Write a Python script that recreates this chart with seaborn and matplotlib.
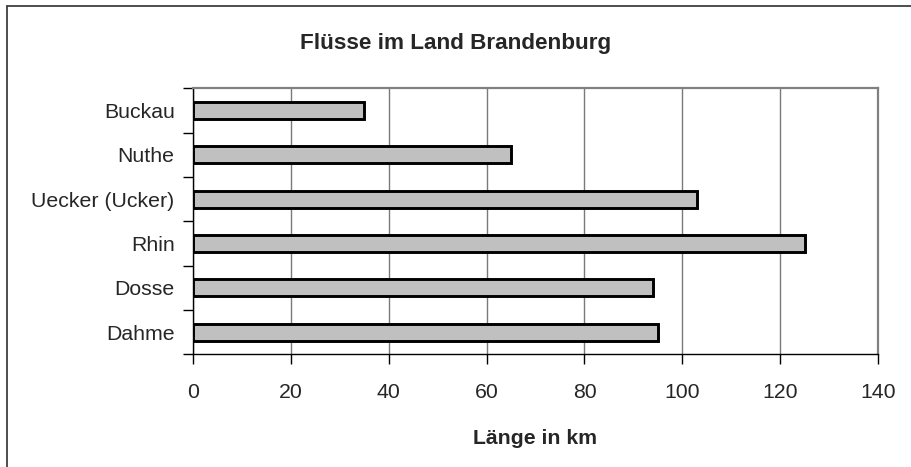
import numpy as np
import pandas as pd
import matplotlib
matplotlib.use("Agg")
import matplotlib.pyplot as plt
import seaborn as sns
from matplotlib.lines import Line2D

rivers = ["Buckau", "Nuthe", "Uecker (Ucker)", "Rhin", "Dosse", "Dahme"]
length_km = [35, 65, 103, 125, 94, 95]
x_ticks = [0, 20, 40, 60, 80, 100, 120, 140]

df = pd.DataFrame({"Fluss": rivers, "Laenge": length_km})

sns.set_style("white")
plt.rcParams["font.family"] = ["Liberation Sans", "DejaVu Sans"]

W, H = 911, 467
fig = plt.figure(figsize=(W / 100, H / 100), dpi=100)
ax = fig.add_axes([192.7 / W, 1 - 354.3 / H, (878.3 - 192.7) / W, (354.3 - 88.3) / H])

sns.barplot(data=df, x="Laenge", y="Fluss", order=rivers, orient="h", ax=ax,
            color="#C0C0C0", edgecolor="black", linewidth=2.1, width=0.38, saturation=1)

ax.set_xlim(0, 140)
ax.set_ylim(5.5, -0.5)
ax.set_xticks(x_ticks)
ax.set_xticklabels([str(t) for t in x_ticks])
ax.grid(axis="x", color="#7a7a7a", linewidth=1.0)
ax.set_axisbelow(True)

# category ticks sit between the bars, like in Excel
ax.set_yticks(np.arange(len(rivers)))
ax.set_yticklabels(rivers)
ax.set_yticks(np.arange(-0.5, len(rivers)), minor=True)
ax.tick_params(axis="y", which="major", length=0, pad=13, labelsize=15.3)
ax.tick_params(axis="y", which="minor", length=7, width=1, color="black", direction="out", left=True)
ax.tick_params(axis="x", which="major", length=7, width=1, color="black", direction="out",
               bottom=True, pad=14, labelsize=15.3)

for side in ["left", "bottom"]:
    ax.spines[side].set_color("black")
    ax.spines[side].set_linewidth(1.0)
for side in ["top", "right"]:
    ax.spines[side].set_color("#808080")
    ax.spines[side].set_linewidth(1.6)

ax.set_ylabel("")
ax.set_xlabel("Länge in km", fontsize=15.3, fontweight="bold", labelpad=19)

fig.text(0.5, 1 - 44 / H, "Flüsse im Land Brandenburg", ha="center", va="center",
         fontsize=16.2, fontweight="bold")

# outer chart border (only top and left edges are visible)
fig.add_artist(Line2D([7.3 / W, 7.3 / W], [0, 1 - 5.5 / H], color="#404040", linewidth=1.3))
fig.add_artist(Line2D([7.3 / W, 1], [1 - 5.5 / H, 1 - 5.5 / H], color="#404040", linewidth=1.3))

fig.savefig("out.png", dpi=100)
